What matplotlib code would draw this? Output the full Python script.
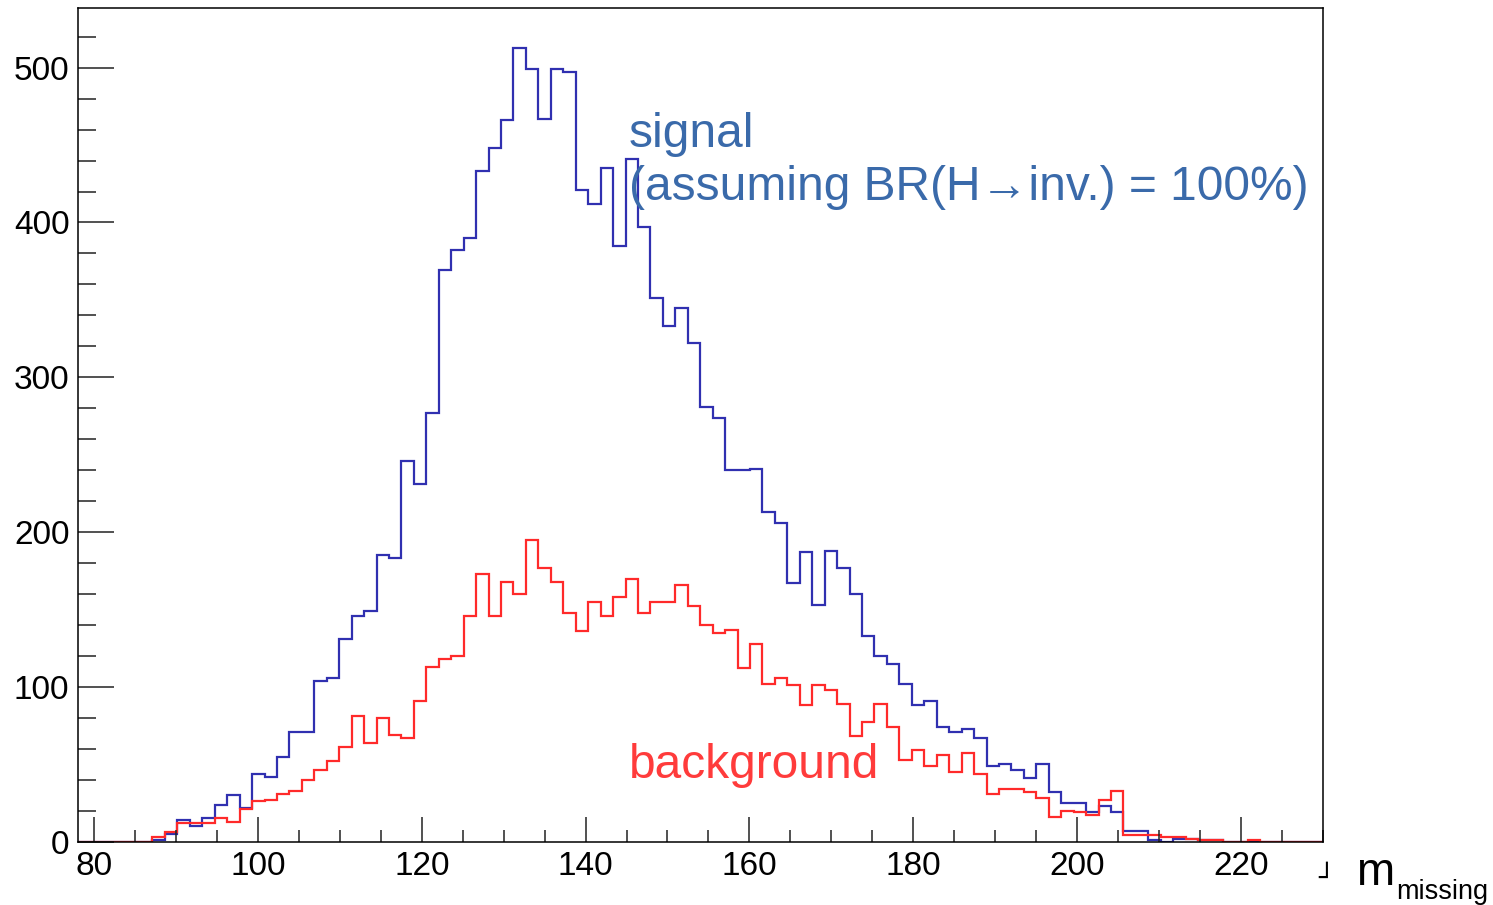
import numpy as np
import matplotlib
matplotlib.use("Agg")
import matplotlib.pyplot as plt
from matplotlib.ticker import MultipleLocator

plt.rcParams['font.family'] = ['Liberation Sans', 'DejaVu Sans']

# histogram binning: 100 bins between 78 and 230
x_lo, x_hi, n_bins = 78.0, 230.0, 100

# bin contents
signal = [0, 0, 0, 0, 0, 0, 1, 5, 14, 10,
          15, 24, 30, 22, 44, 42, 55, 71, 71, 104,
          106, 131, 146, 149, 185, 183, 246, 231, 277, 369,
          382, 390, 433, 448, 466, 513, 499, 467, 499, 497,
          421, 412, 435, 385, 441, 397, 351, 333, 345, 322,
          281, 274, 240, 240, 241, 213, 206, 167, 187, 153,
          188, 177, 160, 133, 120, 115, 102, 88, 91, 74,
          71, 73, 67, 49, 50, 46, 41, 50, 32, 25,
          25, 19, 23, 19, 7, 7, 1, 0, 2, 2,
          1, 1, 0, 0, 0, 0, 0, 0, 0, 0]

background = [0, 0, 0, 0, 0, 0, 3, 6, 12, 12,
              12, 15, 13, 21, 26, 27, 31, 33, 40, 46,
              52, 61, 81, 64, 80, 69, 67, 91, 113, 118,
              120, 146, 173, 146, 168, 160, 195, 177, 168, 148,
              136, 155, 146, 158, 170, 148, 155, 155, 166, 152,
              140, 135, 137, 112, 128, 102, 106, 101, 88, 101,
              98, 89, 68, 77, 89, 74, 53, 59, 49, 56,
              45, 57, 44, 31, 34, 34, 32, 28, 16, 20,
              19, 17, 27, 33, 4, 4, 4, 3, 3, 2,
              1, 1, 0, 0, 1, 0, 0, 0, 0, 0]

x_ticks = [80, 100, 120, 140, 160, 180, 200, 220]
y_ticks = [0, 100, 200, 300, 400, 500]

edges = np.linspace(x_lo, x_hi, n_bins + 1)

fig = plt.figure(figsize=(14.93, 9.05), dpi=100)
ax = fig.add_axes([0.0521, 0.070, 0.8338, 0.9212])

ax.stairs(signal, edges, color='#3030b0', linewidth=1.6)
ax.stairs(background, edges, color='#ff2a2a', linewidth=1.6)

ax.set_xlim(x_lo, x_hi)
ax.set_ylim(0, 538.6)
ax.set_xticks(x_ticks)
ax.set_yticks(y_ticks)
ax.xaxis.set_minor_locator(MultipleLocator(5))
ax.yaxis.set_minor_locator(MultipleLocator(20))
ax.tick_params(axis='both', which='both', direction='in', width=1.1,
               color='#222222', labelsize=24, top=False, right=False)
ax.tick_params(axis='x', which='major', length=18, pad=7)
ax.tick_params(axis='x', which='minor', length=9)
ax.tick_params(axis='y', which='major', length=26, pad=6)
ax.tick_params(axis='y', which='minor', length=13)
for s in ax.spines.values():
    s.set_linewidth(1.1)

ax.text(145.3, 448.8, 'signal', color='#3a6aaa', fontsize=34.5, va='baseline')
ax.text(145.3, 414.5, '(assuming BR(H\u2192inv.) = 100%)', color='#3a6aaa',
        fontsize=34.5, va='baseline')
ax.text(145.3, 41.3, 'background', color='#ff3b3b', fontsize=34.5, va='baseline')

# x axis title at the lower right, partly cut by the page edge
fig.text(1318 / 1493, 1 - 886 / 905, '\u2518', fontsize=19, color='black',
         family=['DejaVu Sans'], va='baseline')
fig.text(1356 / 1493, 1 - 885 / 905, 'm', fontsize=33, va='baseline')
fig.text(1396 / 1493, 1 - 899 / 905, 'missing', fontsize=19.5, va='baseline')

fig.savefig('out.png', dpi=100)
